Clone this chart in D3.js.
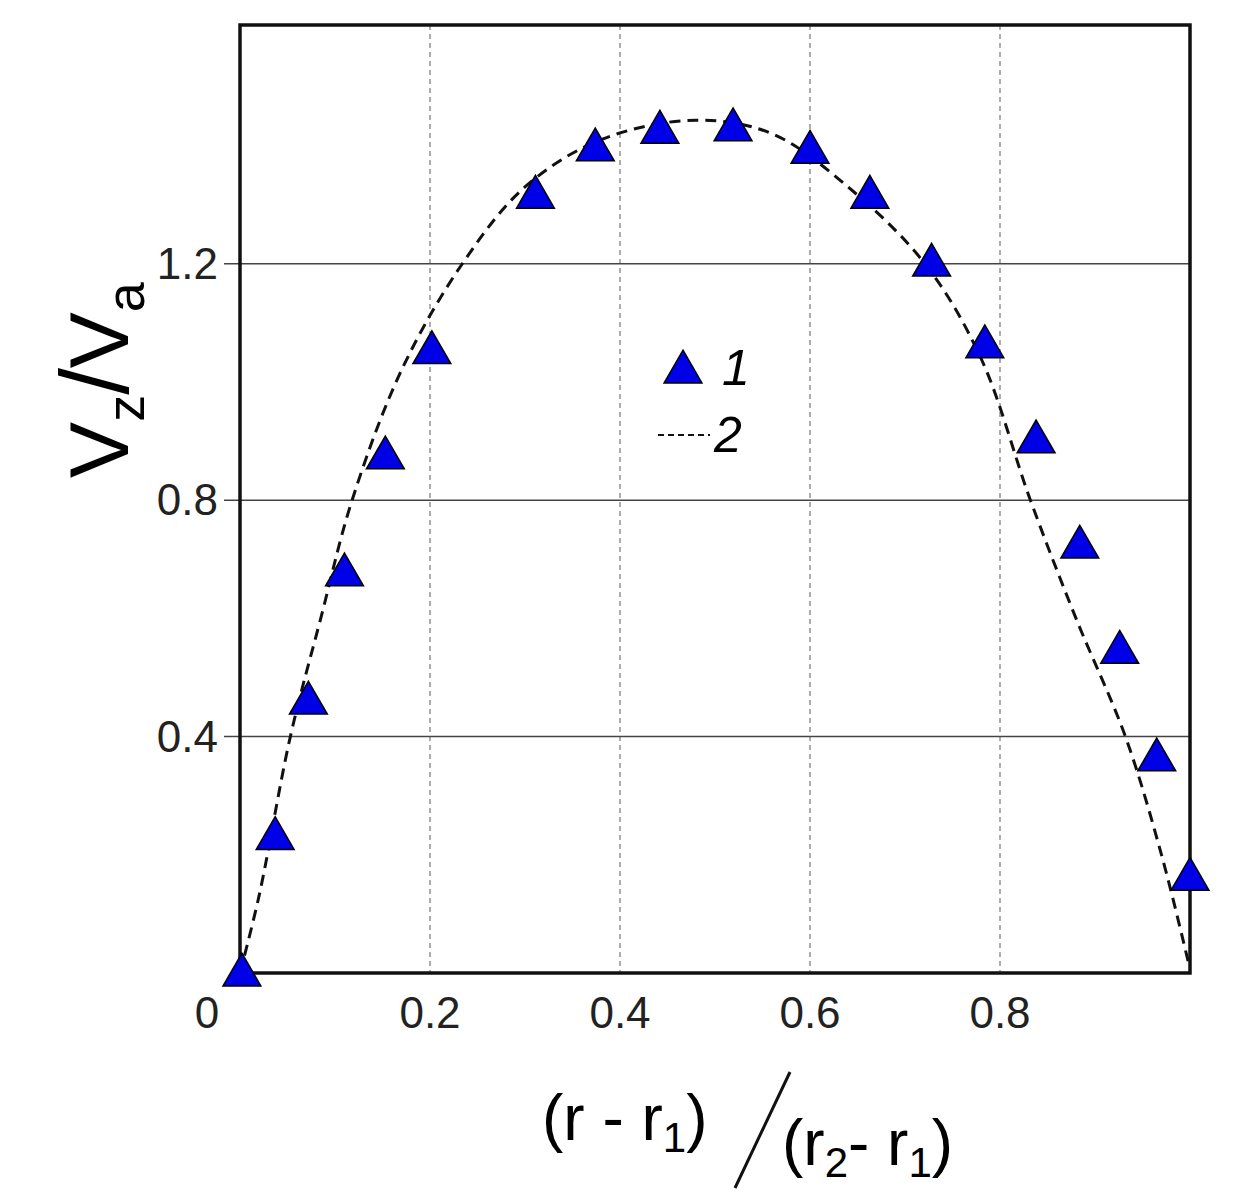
<!DOCTYPE html><html><head><meta charset="utf-8">
<script src="https://cdn.jsdelivr.net/npm/d3@7"></script>
<style>body{margin:0;background:#fff}text{font-family:"Liberation Sans",Arial,sans-serif}</style></head>
<body><svg id="c" width="1246" height="1204"></svg>
<script>
const pointsX=[0.002,0.037,0.072,0.110,0.153,0.202,0.311,0.374,0.442,0.519,0.600,0.663,0.728,0.784,0.838,0.884,0.926,0.965,1.0];
const pointsY=[0.0,0.231,0.460,0.677,0.875,1.053,1.316,1.396,1.426,1.430,1.392,1.316,1.201,1.063,0.902,0.724,0.546,0.364,0.162];
const curveX=[0,0.02,0.053,0.085,0.118,0.17,0.234,0.3,0.38,0.48,0.56,0.64,0.721,0.78,0.832,0.88,0.932,0.97,0.998];
const curveY=[0,0.13,0.4,0.6,0.8,1.02,1.2,1.33,1.41,1.443,1.42,1.33,1.2,1.04,0.8,0.6,0.4,0.2,0.02];
const xTicks=[0.2,0.4,0.6,0.8];
const yTicks=[0.4,0.8,1.2];
const svg=d3.select("#c");
const L=240,R=1190,T=25,B=973;
const x=d3.scaleLinear().domain([0,1]).range([L,R]);
const y=d3.scaleLinear().domain([0,1.604]).range([B,T]);
const g=svg.append("g");
xTicks.forEach(t=>g.append("line").attr("x1",x(t)).attr("x2",x(t)).attr("y1",T).attr("y2",B).attr("stroke","#777").attr("stroke-width",1.2).attr("stroke-dasharray","5,4"));
yTicks.forEach(t=>g.append("line").attr("x1",L-16).attr("x2",R).attr("y1",y(t)).attr("y2",y(t)).attr("stroke","#444").attr("stroke-width",1.5));
g.append("rect").attr("x",L).attr("y",T).attr("width",R-L).attr("height",B-T).attr("fill","none").attr("stroke","#111").attr("stroke-width",3.5);
xTicks.forEach(t=>g.append("text").attr("x",x(t)).attr("y",1028).attr("text-anchor","middle").attr("font-size",44).attr("fill","#222").text(t.toFixed(1)));
g.append("text").attr("x",207).attr("y",1028).attr("text-anchor","middle").attr("font-size",44).attr("fill","#222").text("0");
yTicks.forEach(t=>g.append("text").attr("x",218).attr("y",y(t)+15).attr("text-anchor","end").attr("font-size",44).attr("fill","#222").text(t.toFixed(1)));
const line=d3.line().x(d=>x(d[0])).y(d=>y(d[1])).curve(d3.curveCatmullRom);
g.append("path").attr("d",line(curveX.map((v,i)=>[v,curveY[i]]))).attr("fill","none").attr("stroke","#111").attr("stroke-width",3).attr("stroke-dasharray","11,7");
const tri=d3.symbol().type(d3.symbolTriangle).size(620);
pointsX.forEach((v,i)=>g.append("path").attr("d",tri()).attr("transform",`translate(${x(v)},${y(pointsY[i])+2})`).attr("fill","#0000e6").attr("stroke","#000").attr("stroke-width",1.5));
// legend
g.append("path").attr("d",tri()).attr("transform","translate(683,372)").attr("fill","#0000e6").attr("stroke","#000").attr("stroke-width",1.5);
g.append("text").attr("x",722).attr("y",385).attr("font-size",50).attr("font-style","italic").text("1");
g.append("line").attr("x1",658).attr("x2",710).attr("y1",435).attr("y2",435).attr("stroke","#111").attr("stroke-width",2).attr("stroke-dasharray","6,4");
g.append("text").attr("x",714).attr("y",452).attr("font-size",50).attr("font-style","italic").text("2");
// y label
const yl=g.append("text").attr("transform","translate(128,380) rotate(-90)").attr("text-anchor","middle").attr("font-size",84);
yl.append("tspan").text("V");yl.append("tspan").attr("font-size",54).attr("dy",16).text("z");
yl.append("tspan").attr("dy",-16).attr("font-size",96).text("/");
yl.append("tspan").attr("font-size",84).text("V");yl.append("tspan").attr("font-size",54).attr("dy",16).text("a");
// x label
const xl=g.append("text").attr("x",542).attr("y",1140).attr("font-size",64);
xl.append("tspan").text("(r - r");xl.append("tspan").attr("font-size",42).attr("dy",12).text("1");xl.append("tspan").attr("dy",-12).text(")");
g.append("line").attr("x1",735).attr("y1",1188).attr("x2",790).attr("y2",1072).attr("stroke","#111").attr("stroke-width",3);
const xl2=g.append("text").attr("x",782).attr("y",1165).attr("font-size",64);
xl2.append("tspan").text("(r");xl2.append("tspan").attr("font-size",42).attr("dy",12).text("2");xl2.append("tspan").attr("dy",-12).text("- r");
xl2.append("tspan").attr("font-size",42).attr("dy",12).text("1");xl2.append("tspan").attr("dy",-12).text(")");
</script></body></html>
